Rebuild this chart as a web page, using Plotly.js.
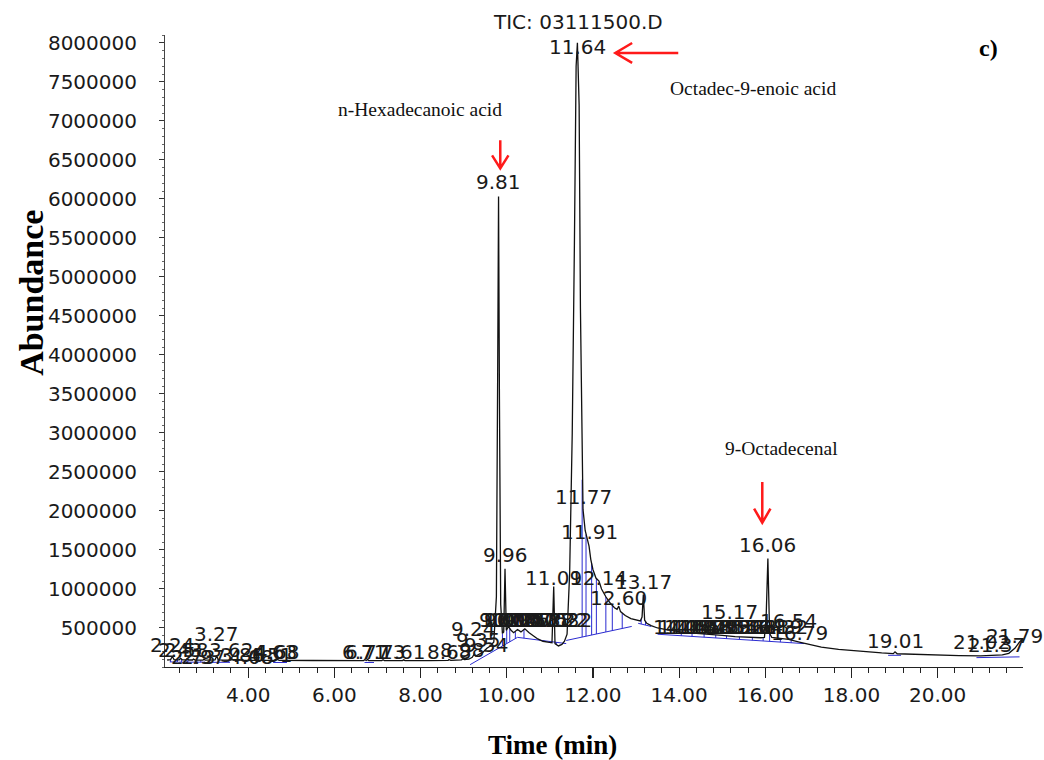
<!DOCTYPE html>
<html>
<head>
<meta charset="utf-8">
<script src="https://cdn.plot.ly/plotly-3.0.1.min.js"></script>
<style>
  html, body { margin: 0; padding: 0; background: #fff; }
  #chart { width: 1044px; height: 760px; }
</style>
</head>
<body>
<div id="chart"></div>
<script>
// Total ion chromatogram: retention time (min) and abundance
const ticTime = [
  2.12, 2.20, 2.24, 2.28, 2.40, 2.43, 2.47, 2.56, 2.58, 2.62, 2.71, 2.73, 2.77, 2.95, 2.97, 3.01,
  3.23, 3.27, 3.31, 3.58, 3.62, 3.66, 3.84, 3.86, 3.90, 4.06, 4.08, 4.12, 4.48, 4.51, 4.55, 4.61,
  4.63, 4.66, 4.68, 4.72, 5.50, 6.30, 6.68, 6.71, 6.74, 6.77, 6.80, 7.10, 7.13, 7.16, 7.58, 7.61,
  7.64, 8.20, 8.64, 8.66, 8.70, 8.95, 8.98, 9.02, 9.12, 9.20, 9.24, 9.28, 9.35, 9.45, 9.54, 9.62,
  9.70, 9.76, 9.79, 9.81, 9.83, 9.86, 9.90, 9.93, 9.96, 9.99, 10.04, 10.10, 10.16, 10.25, 10.33,
  10.42, 10.52, 10.62, 10.72, 10.84, 10.95, 11.05, 11.09, 11.12, 11.20, 11.28, 11.34, 11.40, 11.46,
  11.52, 11.57, 11.61, 11.64, 11.68, 11.71, 11.75, 11.77, 11.82, 11.87, 11.91, 11.95, 12.00, 12.07,
  12.14, 12.20, 12.30, 12.40, 12.50, 12.56, 12.60, 12.64, 12.75, 12.88, 13.00, 13.10, 13.14, 13.17,
  13.20, 13.25, 13.35, 13.50, 13.70, 13.90, 14.10, 14.40, 14.70, 15.00, 15.30, 15.60, 15.90, 15.98,
  16.02, 16.06, 16.10, 16.15, 16.30, 16.54, 16.79, 17.00, 17.30, 17.70, 18.20, 18.70, 18.97, 19.01,
  19.06, 19.50, 20.00, 20.50, 21.00, 21.30, 21.50, 21.65, 21.79, 21.90, 21.97
];
const ticAbundance = [
  90000, 95000, 135000, 95000, 92000, 112000, 92000, 92000, 105000, 90000, 90000, 102000, 88000, 88000, 98000, 88000,
  90000, 140000, 90000, 88000, 105000, 88000, 87000, 96000, 86000, 86000, 94000, 85000, 85000, 92000, 85000, 85000,
  100000, 92000, 98000, 84000, 83000, 82000, 82000, 95000, 84000, 97000, 82000, 82000, 93000, 82000, 82000, 92000,
  82000, 82000, 84000, 96000, 86000, 90000, 105000, 95000, 100000, 125000, 160000, 140000, 165000, 190000, 240000, 270000,
  320000, 900000, 3800000, 6030000, 3500000, 800000, 430000, 450000, 1260000, 470000, 520000, 470000, 440000, 480000, 450000,
  490000, 440000, 400000, 360000, 330000, 320000, 310000, 1030000, 300000, 270000, 290000, 330000, 420000, 1200000,
  3000000, 5400000, 7700000, 8000000, 7200000, 4600000, 2400000, 2020000, 1750000, 1620000, 1550000, 1380000, 1250000, 1140000,
  1100000, 1000000, 900000, 820000, 760000, 740000, 780000, 710000, 660000, 620000, 600000, 590000, 640000, 930000,
  600000, 560000, 530000, 500000, 480000, 460000, 445000, 430000, 420000, 405000, 390000, 380000, 375000, 380000,
  650000, 1390000, 430000, 380000, 370000, 355000, 320000, 290000, 255000, 225000, 200000, 180000, 172000, 195000,
  170000, 160000, 152000, 146000, 142000, 145000, 155000, 175000, 240000, 320000, 360000
];

// Integration baselines: [start time, start abundance, end time, end abundance]
const baseSegments = [
  [2.18, 65000, 2.36, 65000],
  [2.38, 62000, 3.00, 62000],
  [3.05, 60000, 3.58, 60000],
  [4.58, 58000, 4.90, 58000],
  [6.70, 58000, 6.92, 58000],
  [9.15, 30000, 10.25, 380000],
  [10.25, 380000, 11.38, 300000],
  [11.38, 340000, 12.90, 520000],
  [13.05, 560000, 13.35, 520000],
  [13.50, 420000, 16.90, 300000],
  [18.85, 150000, 19.15, 150000],
  [20.90, 120000, 21.90, 130000]
];
// Integration drop lines (retention time)
const dropTimes = [
  2.20, 2.36, 2.45, 2.60, 2.90, 3.30, 3.55, 4.60, 4.88,
  9.90, 10.00, 10.07, 10.20, 10.40, 11.00, 11.15,
  11.75, 11.84, 11.97, 12.08, 12.30, 12.45, 12.68, 13.12, 13.22,
  14.05, 14.30, 14.58, 14.85, 15.10, 15.40, 15.70, 15.95, 16.10, 16.35, 16.60
];

// Peak retention-time labels and the abundance each label is centred on
const peakLabelTime = [
  2.24, 2.43, 2.58, 2.73, 2.97, 3.27, 3.62, 3.86, 4.08, 4.51, 4.63, 4.68,
  6.71, 6.77, 7.13, 7.61, 8.68, 8.98, 9.24, 9.35, 9.54,
  9.81, 9.96,
  9.87, 9.99, 10.04, 10.14, 10.25, 10.37, 10.50, 10.62, 10.75, 10.88, 11.02, 11.22, 11.32,
  11.09, 11.64, 11.77, 11.91, 12.14, 12.60, 13.17,
  14.05, 14.18, 14.31, 14.44, 14.58, 14.71, 14.85, 14.99, 15.32, 15.46, 15.61, 15.74, 15.88, 16.19, 16.32,
  15.17, 16.06, 16.54, 16.79, 19.01, 21.02, 21.37, 21.79
];
const peakLabelLevel = [
  278000, 214000, 214000, 124000, 124000, 420000, 214000, 150000, 124000, 150000, 188000, 188000,
  188000, 188000, 188000, 188000, 188000, 214000, 483000, 342000, 278000,
  6210000, 1430000,
  599000, 599000, 599000, 599000, 599000, 599000, 599000, 599000, 599000, 599000, 599000, 599000, 599000,
  1140000, 7940000, 2180000, 1730000, 1140000, 880000, 1090000,
  509000, 509000, 509000, 509000, 509000, 509000, 509000, 509000, 509000, 509000, 509000, 509000, 509000, 509000, 509000,
  700000, 1560000, 586000, 432000, 330000, 317000, 278000, 393000
];

// Compound names with the retention time they point at
const compoundNames = ["n-Hexadecanoic acid", "Octadec-9-enoic acid", "9-Octadecenal"];
const compoundTimes = [9.81, 11.64, 16.06];

const yTickValues = [];
for (let v = 500000; v <= 8000000; v += 500000) yTickValues.push(v);
const xTickValues = [4, 6, 8, 10, 12, 14, 16, 18, 20];

// linear lookup on the chromatogram
function ticAt(t) {
  for (let i = 1; i < ticTime.length; i++) {
    if (t <= ticTime[i]) {
      const f = (t - ticTime[i - 1]) / (ticTime[i] - ticTime[i - 1]);
      return ticAbundance[i - 1] + f * (ticAbundance[i] - ticAbundance[i - 1]);
    }
  }
  return ticAbundance[ticAbundance.length - 1];
}
function baseAt(t) {
  for (const s of baseSegments) {
    if (t >= s[0] && t <= s[2]) return s[1] + (t - s[0]) / (s[2] - s[0]) * (s[3] - s[1]);
  }
  return null;
}

const blueX = [], blueY = [];
baseSegments.forEach(s => { blueX.push(s[0], s[2], null); blueY.push(s[1], s[3], null); });
dropTimes.forEach(t => {
  const b = baseAt(t);
  if (b === null) return;
  blueX.push(t, t, null); blueY.push(b, ticAt(t), null);
});

const sans = "DejaVu Sans, Arial, sans-serif";
const serif = "Liberation Serif, Times New Roman, serif";

const annotations = peakLabelTime.map((t, i) => ({
  x: t, y: peakLabelLevel[i], xref: "x", yref: "y",
  text: t.toFixed(2), showarrow: false,
  xanchor: "center", yanchor: "middle",
  font: { family: sans, size: 20, color: "#1a1a1a" }
}));

// compound name captions
const namePos = [
  { x: 7.99, y: 7140000 },
  { x: 15.72, y: 7420000 },
  { x: 16.37, y: 2800000 }
];
compoundNames.forEach((n, i) => annotations.push({
  x: namePos[i].x, y: namePos[i].y, xref: "x", yref: "y", text: n, showarrow: false,
  xanchor: "center", yanchor: "middle",
  font: { family: serif, size: 19.5, color: "#111" }
}));

annotations.push(
  { x: 0.481, y: 1.0206, xref: "paper", yref: "paper", text: "TIC: 03111500.D", showarrow: false,
    xanchor: "center", yanchor: "middle", font: { family: sans, size: 20, color: "#1a1a1a" } },
  { x: 0.96, y: 0.98, xref: "paper", yref: "paper", text: "<b>c)</b>", showarrow: false,
    xanchor: "center", yanchor: "middle", font: { family: serif, size: 24, color: "#000" } },
  { x: -0.155, y: 0.592, xref: "paper", yref: "paper", text: "<b>Abundance</b>", showarrow: false,
    textangle: -90, xanchor: "center", yanchor: "middle", font: { family: serif, size: 34, color: "#000" } },
  { x: 0.452, y: -0.123, xref: "paper", yref: "paper", text: "<b>Time (min)</b>", showarrow: false,
    xanchor: "center", yanchor: "middle", font: { family: serif, size: 27, color: "#000" } }
);

// red pointer arrows (data units)
const red = "#ff1a1a";
function arrowPath(x0, y0, x1, y1, hx, hy) {
  return `M${x0},${y0} L${x1},${y1} M${x1 + hx[0]},${y1 + hy[0]} L${x1},${y1} L${x1 + hx[1]},${y1 + hy[1]}`;
}
const shapes = [
  { type: "path", xref: "x", yref: "y",
    path: arrowPath(9.85, 6750000, 9.85, 6390000, [-0.19, 0.19], [167000, 167000]),
    line: { color: red, width: 2.5 } },
  { type: "path", xref: "x", yref: "y",
    path: arrowPath(13.98, 7870000, 12.52, 7870000, [0.39, 0.39], [128000, -128000]),
    line: { color: red, width: 2.5 } },
  { type: "path", xref: "x", yref: "y",
    path: arrowPath(15.93, 2370000, 15.93, 1850000, [-0.19, 0.19], [180000, 180000]),
    line: { color: red, width: 2.5 } }
];

const traces = [
  { x: blueX, y: blueY, type: "scatter", mode: "lines", connectgaps: false,
    line: { color: "#2b2bd0", width: 1 }, hoverinfo: "skip" },
  { x: ticTime, y: ticAbundance, type: "scatter", mode: "lines",
    line: { color: "#111", width: 1.3 } }
];

const layout = {
  width: 1044, height: 760,
  margin: { l: 165, r: 21, t: 35, b: 93 },
  paper_bgcolor: "#fff", plot_bgcolor: "#fff",
  showlegend: false,
  xaxis: {
    range: [2.07, 21.98], showgrid: false, zeroline: false,
    showline: true, linecolor: "#222", linewidth: 1.2,
    tickmode: "array", tickvals: xTickValues, tickformat: ".2f",
    ticks: "outside", ticklen: 10, tickwidth: 1.2, tickcolor: "#222",
    minor: { dtick: 0.4, tick0: 0, ticks: "outside", ticklen: 5, tickcolor: "#222", tickwidth: 1 },
    tickfont: { family: sans, size: 20, color: "#1a1a1a" }
  },
  yaxis: {
    range: [0, 8100000], showgrid: false, zeroline: false,
    showline: true, linecolor: "#444", linewidth: 1,
    tickmode: "array", tickvals: yTickValues, tickformat: "d",
    ticks: "outside", ticklen: 5, tickcolor: "#333",
    ticklabelstandoff: 18,
    minor: { dtick: 100000, ticks: "outside", ticklen: 2, tickcolor: "#666" },
    tickfont: { family: sans, size: 20, color: "#1a1a1a" }
  },
  annotations: annotations,
  shapes: shapes
};

Plotly.newPlot("chart", traces, layout, { staticPlot: true, displayModeBar: false });
</script>
</body>
</html>
